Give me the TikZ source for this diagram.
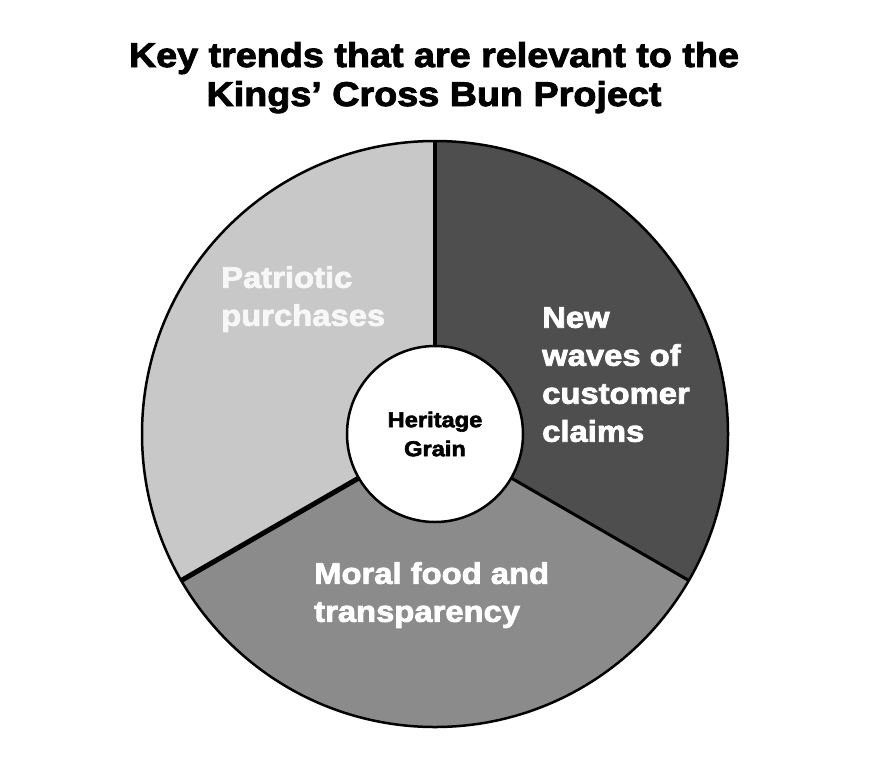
\documentclass[tikz,border=0pt]{standalone}
\usepackage{fontspec}
\setmainfont{Liberation Sans}[FakeStretch=1.1,FakeBold=2.6]
\usetikzlibrary{calc}
\definecolor{lightsec}{HTML}{C8C8C8}
\definecolor{midsec}{HTML}{8B8B8B}
\definecolor{darksec}{HTML}{4E4E4E}
\definecolor{paletext}{HTML}{F7F7F7}
\tikzset{
  titletext/.style={font=\bfseries\fontsize{34.3}{38}\selectfont, anchor=base, inner sep=0},
  sectext/.style={font=\bfseries\fontsize{29.8}{38}\selectfont, align=left, anchor=north west, inner sep=0, text=white},
  divider/.style={draw=black, line cap=butt},
}
\begin{document}
\begin{tikzpicture}[x=1pt,y=-1pt]
\useasboundingbox (0,0) rectangle (869,761);
\coordinate (c) at (435,434);
\def\R{293}
% sectors (y axis points down: -90 is top of page)
\fill[darksec] (c) -- ++(-90:\R) arc[start angle=-90,end angle=30,radius=\R] -- cycle;
\fill[midsec] (c) -- ++(30:\R) arc[start angle=30,end angle=150,radius=\R] -- cycle;
\fill[lightsec] (c) -- ++(150:\R) arc[start angle=150,end angle=270,radius=\R] -- cycle;
\path (c) ++(-90:\R) coordinate (etop);
\path (c) ++(30:\R) coordinate (eright);
\path (c) ++(150:\R) coordinate (eleft);
\draw[divider, line width=4pt] (c) -- (etop);
\draw[divider, line width=3pt] (c) -- (eright);
\draw[divider, line width=5pt] (c) -- (eleft);
\draw[line width=2.5pt] (c) circle[radius=\R];
\node[circle, draw=black, fill=white, line width=2.5pt, minimum size=176pt, inner sep=0,
      align=center, font=\bfseries\fontsize{21.5}{29}\selectfont] (hub) at (c) {Heritage\\Grain};
% title
\node[titletext] (title1) at (434,67) {Key trends that are relevant to the};
\node[titletext] (title2) at (434,106) {Kings’ Cross Bun Project};
% sector labels
\node[sectext, text=paletext] (patriotic) at (221,266) {Patriotic\\purchases};
\node[sectext] (newwaves) at (542,307) {New\\waves of\\customer\\claims};
\node[sectext] (moral) at (314,562) {Moral food and\\transparency};
\end{tikzpicture}
\end{document}
